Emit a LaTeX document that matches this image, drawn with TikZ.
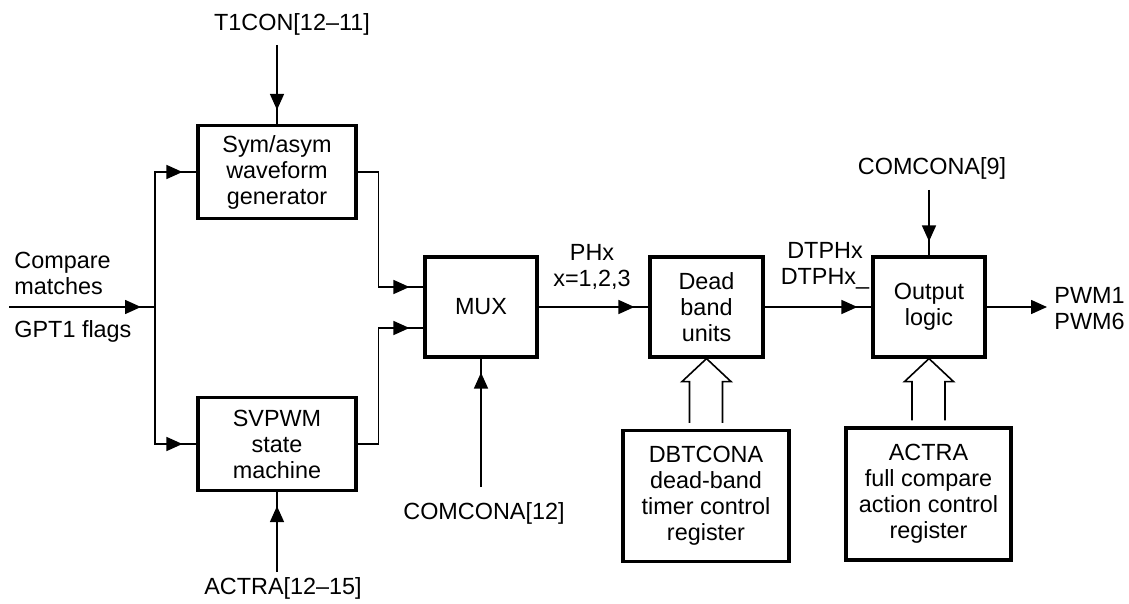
\documentclass[tikz,border=0pt]{standalone}
\usepackage{fontspec}
\setmainfont{Liberation Sans}
\usetikzlibrary{arrows.meta,calc,decorations.markings}

\tikzset{
  blk/.style={draw, line width=1.6pt, align=center, inner sep=1pt},
  lbl/.style={align=center, inner sep=0pt},
  wire/.style={line width=0.8pt},
  sig/.style={wire, postaction={decorate},
    decoration={markings, mark=at position -7pt with {\arrow{Triangle[length=8pt,width=7pt]}}}},
  fat/.style={line width=0.8pt, line join=miter},
}

\begin{document}
\begin{tikzpicture}[x=0.5pt, y=-0.5pt, font=\fontsize{11.7}{13}\selectfont]
    \useasboundingbox (0,0) rectangle (1129,604);

    % blocks
    \node[blk, minimum width=79pt, minimum height=46.5pt] (sym) at (277,172) {Sym/asym\\waveform\\generator};
    \node[blk, minimum width=79pt, minimum height=46.5pt] (svpwm) at (277,444) {SVPWM\\state\\machine};
    \node[blk, minimum width=56pt, minimum height=50pt] (mux) at (481,307) {MUX};
    \node[blk, minimum width=56.5pt, minimum height=50pt] (dead) at (706.5,307) {Dead\\band\\units};
    \node[blk, minimum width=56pt, minimum height=50pt] (out) at (929,307) {Output\\logic};
    \node[blk, minimum width=83pt, minimum height=65.5pt] (dbt) at (706,496) {DBTCONA\\dead-band\\timer control\\register};
    \node[blk, minimum width=82.5pt, minimum height=66pt] (actra) at (928.5,494) {ACTRA\\full compare\\action control\\register};

    % labels
    \node[lbl] (t1con) at (292,24) {T1CON[12–11]};
    \node[lbl] (actlbl) at (283,588) {ACTRA[12–15]};
    \node[lbl] (c12) at (484,513) {COMCONA[12]};
    \node[lbl] (c9) at (932,168) {COMCONA[9]};
    \node[lbl] (phx) at (592,267) {PHx\\x=1,2,3};
    \node[lbl] (dtphx) at (825,266) {DTPHx\\DTPHx\_};
    \node[lbl, anchor=west, align=left] (pwm) at (1054,309) {PWM1\\PWM6};
    \node[lbl, anchor=west, align=left] (cmp) at (14,273) {Compare\\matches};
    \node[lbl, anchor=west] (gpt) at (14,331) {GPT1 flags};

    % free ends of the inputs
    \coordinate (split) at (155,307);
    \coordinate (cmpin) at (9,307);
    \coordinate (t1in) at (277,45);
    \coordinate (actin) at (277,572);
    \coordinate (c12in) at (481,487);
    \coordinate (c9in) at (929,190);

    % signals
    \draw[sig] (cmpin) -- (split);
    \draw[sig] (split) |- (sym.west);
    \draw[sig] (split) |- (svpwm.west);
    \draw[sig] (sym.east) -- ++(21,0) |- ($(mux.west)+(0,-20)$);
    \draw[sig] (svpwm.east) -- ++(21,0) |- ($(mux.west)+(0,21)$);
    \draw[sig] (t1in) -- (sym.north);
    \draw[sig] (actin) -- (svpwm.south);
    \draw[sig] (c12in) -- (mux.south);
    \draw[sig] (mux.east) -- (dead.west);
    \draw[sig] (dead.east) -- (out.west);
    \draw[sig] (c9in) -- (out.north);
    \draw[wire, -{Triangle[length=8pt,width=7pt]}, shorten >=3.5pt] (out.east) -- (out.east -| pwm.west);

    % register buses
    \draw[fat] ($(dbt.north)+(-16.5,-6)$) |- ($(dead.south)+(-24.5,23)$) -- (dead.south)
        -- ($(dead.south)+(24.5,23)$) -| ($(dbt.north)+(16.5,-6)$);
    \draw[fat] ($(actra.north)+(-16.5,-6)$) |- ($(out.south)+(-24.5,23)$) -- (out.south)
        -- ($(out.south)+(24.5,23)$) -| ($(actra.north)+(16.5,-6)$);
\end{tikzpicture}
\end{document}
